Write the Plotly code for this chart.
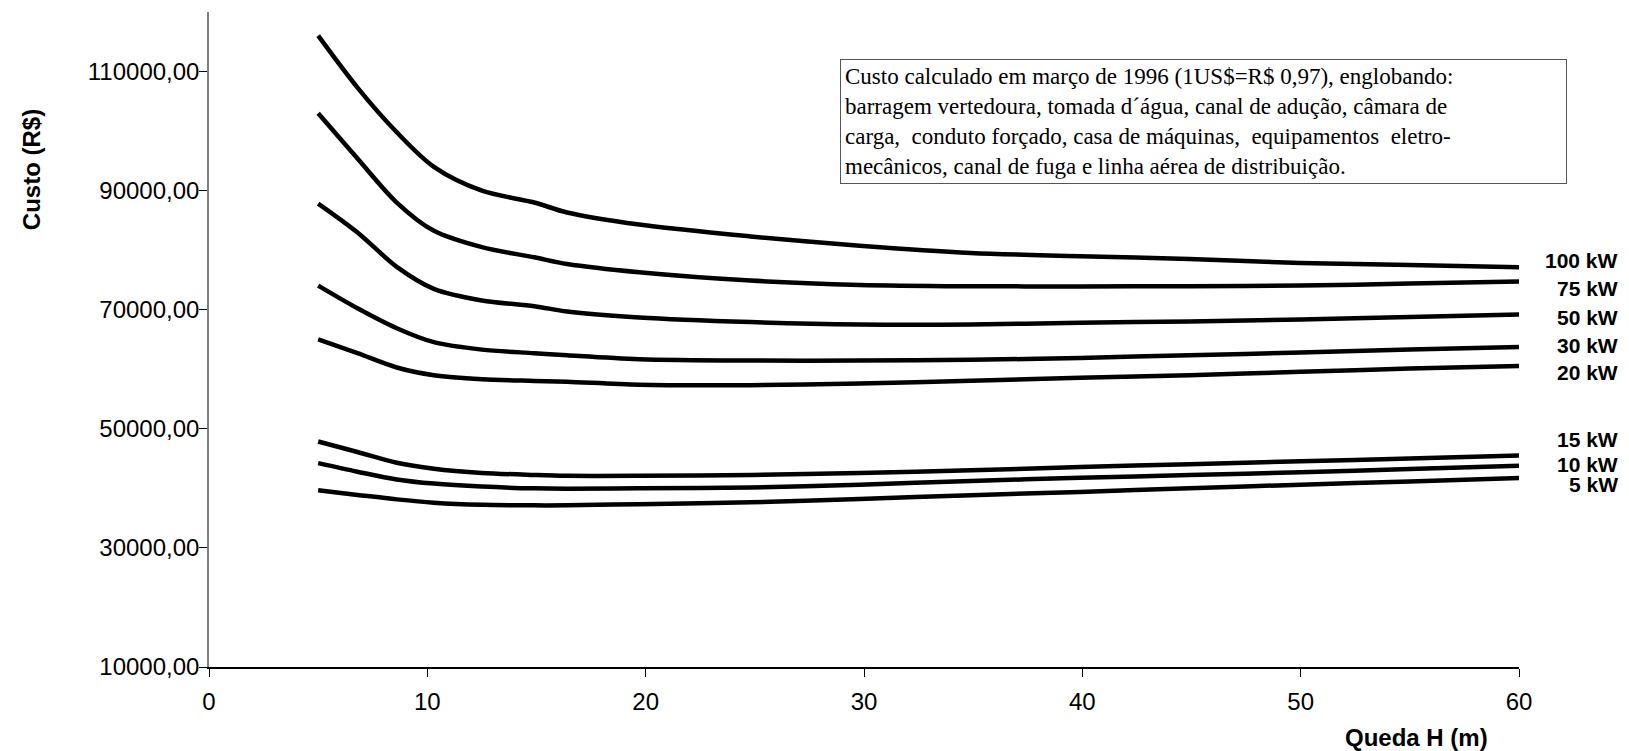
import plotly.graph_objects as go

# ---------------- data ----------------
queda_h = [5, 6.8, 8.6, 10.3, 12.5, 14.9, 16.4, 19.7, 24.8, 29.8, 34.9, 39.9, 44.9, 50, 55, 60]

custo_100kw = [116020, 107300, 99800, 94000, 90000, 88000, 86330, 84300, 82310, 80740, 79520, 79000, 78520, 77850, 77510, 77130]
custo_75kw = [102990, 95400, 88000, 83250, 80500, 78800, 77680, 76290, 74890, 74170, 73950, 73920, 73950, 74050, 74390, 74720]
custo_50kw = [87830, 82980, 77200, 73500, 71550, 70600, 69700, 68700, 67930, 67530, 67530, 67820, 68030, 68370, 68770, 69180]
custo_30kw = [74050, 70250, 66900, 64550, 63300, 62700, 62350, 61700, 61460, 61460, 61580, 61910, 62350, 62800, 63300, 63750]
custo_20kw = [65030, 62700, 60300, 59000, 58330, 58050, 57900, 57400, 57330, 57620, 58070, 58570, 59000, 59570, 60120, 60550]
custo_15kw = [47870, 46100, 44300, 43300, 42600, 42250, 42100, 42100, 42250, 42600, 43030, 43590, 44070, 44540, 45030, 45520]
custo_10kw = [44240, 42800, 41500, 40800, 40300, 40000, 39950, 40000, 40150, 40620, 41240, 41770, 42240, 42700, 43250, 43790]
custo_5kw = [39670, 38900, 38150, 37600, 37250, 37150, 37150, 37350, 37650, 38200, 38860, 39400, 40020, 40620, 41170, 41740]

series_names = ["100 kW", "75 kW", "50 kW", "30 kW", "20 kW", "15 kW", "10 kW", "5 kW"]
series_values = [custo_100kw, custo_75kw, custo_50kw, custo_30kw, custo_20kw, custo_15kw, custo_10kw, custo_5kw]

y_tick_values = [10000, 30000, 50000, 70000, 90000, 110000]
y_tick_labels = ["10000,00", "30000,00", "50000,00", "70000,00", "90000,00", "110000,00"]
x_tick_values = [0, 10, 20, 30, 40, 50, 60]
x_tick_labels = ["0", "10", "20", "30", "40", "50", "60"]

# label anchor heights (in cost units) for the series labels at the right
label_heights = [78230, 73500, 68770, 64020, 59460, 48140, 44070, 40610]

note_text = ("Custo calculado em março de 1996 (1US$=R$ 0,97), englobando:<br>"
             "barragem vertedoura, tomada d´água, canal de adução, câmara de<br>"
             "carga,  conduto forçado, casa de máquinas,  equipamentos  eletro-<br>"
             "mecânicos, canal de fuga e linha aérea de distribuição.")

# ---------------- figure ----------------
fig = go.Figure()
for name, vals in zip(series_names, series_values):
    fig.add_trace(go.Scatter(
        x=queda_h, y=vals, name=name, mode="lines",
        line=dict(color="black", width=4.5, shape="spline", smoothing=0.9),
        showlegend=False, hoverinfo="x+y+name"))

sans = "Liberation Sans, Arial, sans-serif"

# the page adds an 8px body margin, so the figure is 8px smaller than the window
fig.update_layout(
    width=1621, height=743,
    margin=dict(l=201, r=110, t=4, b=84),
    paper_bgcolor="white", plot_bgcolor="white",
    font=dict(family=sans, color="black", size=24),
    xaxis=dict(range=[0, 60], tickvals=x_tick_values, ticktext=x_tick_labels,
               showgrid=False, zeroline=False, showline=True, linecolor="black", linewidth=1.5,
               ticks="outside", ticklen=8, tickwidth=1.2, tickcolor="black",
               tickfont=dict(size=24, family=sans), ticklabelstandoff=4),
    yaxis=dict(range=[10000, 120000], tickvals=y_tick_values, ticktext=y_tick_labels,
               showgrid=False, zeroline=False, showline=True, linecolor="#808080", linewidth=1.5,
               ticks="outside", ticklen=8, tickwidth=1.2, tickcolor="black",
               tickfont=dict(size=24, family=sans), ticklabelstandoff=-5),
    xaxis2=dict(range=[0, 60], overlaying="x", anchor="y", side="bottom",
                tickvals=x_tick_values, showticklabels=False, ticks="inside", ticklen=5,
                tickwidth=1.2, tickcolor="black", showgrid=False, zeroline=False, showline=False),
    yaxis2=dict(range=[10000, 120000], overlaying="y", anchor="x", side="left",
                tickvals=y_tick_values, showticklabels=False, ticks="inside", ticklen=8,
                tickwidth=1.2, tickcolor="black", showgrid=False, zeroline=False, showline=False),
)

# series labels at the right
for name, h in zip(series_names, label_heights):
    fig.add_annotation(text="<b>" + name + "</b>", xref="paper", yref="y",
                       x=1.0771, y=h, xanchor="right", yanchor="middle",
                       showarrow=False, font=dict(size=21, family=sans, color="black"))

# axis titles
fig.add_annotation(text="<b>Custo (R$)</b>", xref="paper", yref="paper",
                   x=-0.1359, y=0.760, textangle=-90, xanchor="center", yanchor="middle",
                   showarrow=False, font=dict(size=24, family=sans, color="black"))
fig.add_annotation(text="<b>Queda H (m)</b>", xref="paper", yref="paper",
                   x=0.9214, y=-0.1069, xanchor="center", yanchor="middle",
                   showarrow=False, font=dict(size=24, family=sans, color="black"))

# note box
fig.add_annotation(text=note_text, xref="paper", yref="paper",
                   x=0.4817, y=0.928, xanchor="left", yanchor="top", align="left",
                   showarrow=False, width=717, bordercolor="#555555", borderwidth=1, borderpad=4,
                   bgcolor="white",
                   font=dict(size=23, family="Liberation Serif, Times New Roman, serif", color="black"))

fig.write_html("out.html")
